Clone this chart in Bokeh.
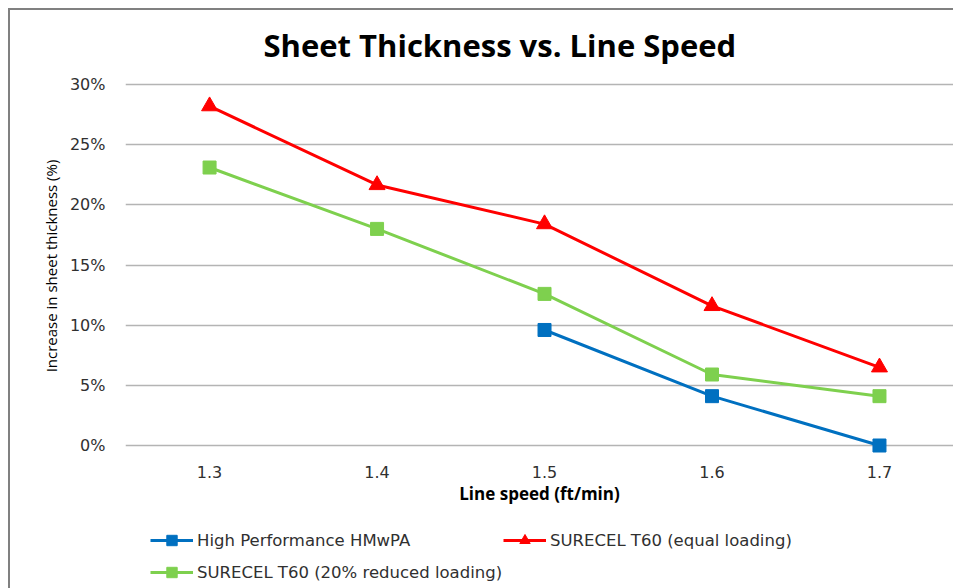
from bokeh.plotting import figure
from bokeh.layouts import column
from bokeh.models import Range1d, FixedTicker, NumeralTickFormatter, Legend, LegendItem
from bokeh.embed import file_html
from bokeh.resources import INLINE

# ---- data ----
line_speed = [1.3, 1.4, 1.5, 1.6, 1.7]
x_tick_labels = ["1.3", "1.4", "1.5", "1.6", "1.7"]
hmwpa_x = [1.5, 1.6, 1.7]
hmwpa = [0.096, 0.041, 0.0]
surecel_equal = [0.282, 0.2165, 0.184, 0.116, 0.065]
surecel_reduced = [0.231, 0.180, 0.126, 0.059, 0.041]
y_ticks = [0.0, 0.05, 0.10, 0.15, 0.20, 0.25, 0.30]
series_names = ["High Performance HMwPA", "SURECEL T60 (equal loading)",
                "SURECEL T60 (20% reduced loading)"]

BLUE = "#0070C0"
RED = "#FF0000"
GREEN = "#7ED04E"

p = figure(width=943, height=505, output_backend="svg", toolbar_location=None,
           x_range=Range1d(1.2498, 1.7442), y_range=Range1d(-0.00997, 0.30831),
           min_border_left=115, min_border_right=0, min_border_top=64, min_border_bottom=58,
           title="Sheet Thickness vs. Line Speed")
p.outline_line_color = None
p.background_fill_color = "white"
p.border_fill_color = "white"

p.title.align = "left"
p.title.vertical_align = "bottom"
p.title.text_font = "Open Sans"
p.title.text_font_size = "31px"
p.title.text_font_style = "bold"
p.title.text_color = "black"
p.title.offset = 138
p.title.standoff = 18

# axes
p.yaxis.ticker = FixedTicker(ticks=y_ticks)
p.yaxis.formatter = NumeralTickFormatter(format="0%")
p.xaxis.ticker = FixedTicker(ticks=line_speed)
p.xaxis.major_label_overrides = {v: s for v, s in zip(line_speed, x_tick_labels)}
for ax in (p.xaxis, p.yaxis):
    ax.axis_line_color = None
    ax.major_tick_line_color = None
    ax.minor_tick_line_color = None
    ax.major_label_text_font = "DejaVu Sans"
    ax.major_label_text_font_size = "16px"
    ax.major_label_text_color = "#303030"
    ax.axis_label_text_color = "black"
    ax.axis_label_text_font = "Open Sans"
p.yaxis.major_label_standoff = 14
p.xaxis.major_label_standoff = 2
p.yaxis.axis_label = "Increase in sheet thickness (%)"
p.yaxis.axis_label_text_font_size = "15px"
p.yaxis.axis_label_text_font_style = "normal"
p.yaxis.axis_label_standoff = 6
p.xaxis.axis_label = "Line speed (ft/min)"
p.xaxis.axis_label_text_font_size = "17px"
p.xaxis.axis_label_text_font_style = "bold"
p.xaxis.axis_label_standoff = 1

p.xgrid.grid_line_color = None
p.ygrid.grid_line_color = "#b4b4b4"
p.ygrid.grid_line_width = 1.5

# series
p.line(hmwpa_x, hmwpa, line_color=BLUE, line_width=3)
p.scatter(hmwpa_x, hmwpa, marker="square", size=13, fill_color=BLUE, line_color=BLUE)
p.line(line_speed, surecel_equal, line_color=RED, line_width=3)
p.scatter(line_speed, surecel_equal, marker="triangle", size=16, fill_color=RED, line_color=RED)
p.line(line_speed, surecel_reduced, line_color=GREEN, line_width=3)
p.scatter(line_speed, surecel_reduced, marker="square", size=13, fill_color=GREEN, line_color=GREEN)

# legend strip (separate figure below the chart so the legend is not clipped);
# its glyphs reuse the series data but fall outside this strip's ranges
q = figure(width=943, height=73, output_backend="svg", toolbar_location=None,
           x_range=Range1d(0, 1), y_range=Range1d(0, 1),
           min_border_left=0, min_border_right=0, min_border_top=0, min_border_bottom=0)
q.axis.visible = False
q.grid.visible = False
q.outline_line_color = None
q.border_fill_color = "white"
lb1 = q.line(hmwpa_x, hmwpa, line_color=BLUE, line_width=3)
sb1 = q.scatter(hmwpa_x, hmwpa, marker="square", size=12, fill_color=BLUE, line_color=BLUE)
lb2 = q.line(line_speed, surecel_equal, line_color=RED, line_width=3)
sb2 = q.scatter(line_speed, surecel_equal, marker="triangle", size=15, fill_color=RED, line_color=RED)
lb3 = q.line(line_speed, surecel_reduced, line_color=GREEN, line_width=3)
sb3 = q.scatter(line_speed, surecel_reduced, marker="square", size=12, fill_color=GREEN, line_color=GREEN)

def mk_legend(items, loc):
    lg = Legend(items=items, location=loc, orientation="vertical")
    lg.padding = 0
    lg.margin = 0
    lg.border_line_color = None
    lg.background_fill_alpha = 0
    lg.glyph_width = 43
    lg.glyph_height = 26
    lg.label_height = 26
    lg.spacing = 6
    lg.label_standoff = 4
    lg.label_text_font = "DejaVu Sans"
    lg.label_text_font_size = "16.5px"
    lg.label_text_color = "#303030"
    return lg

q.add_layout(mk_legend([LegendItem(label=series_names[0], renderers=[lb1, sb1]),
                        LegendItem(label=series_names[2], renderers=[lb3, sb3])], (25, 3)), "center")
q.add_layout(mk_legend([LegendItem(label=series_names[1], renderers=[lb2, sb2])], (378, 35)), "center")

layout = column(p, q, spacing=0)
layout.styles = {"margin-left": "8px", "margin-top": "8px",
                 "border-left": "2px solid #808080", "border-top": "2px solid #808080"}

open("out.html", "w").write(file_html(layout, INLINE))
